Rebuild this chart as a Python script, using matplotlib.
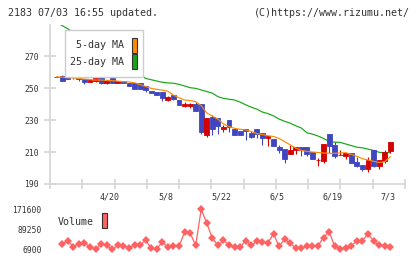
import matplotlib
matplotlib.use("Agg")
import matplotlib.pyplot as plt
from matplotlib.patches import Rectangle
import matplotlib.transforms as mtransforms
import numpy as np

# ---- data ----
opens = [257.0, 257.5, 257.5, 262.7, 259.4, 255.4, 254.0, 254.4, 257.5, 252.9,
         256.0, 252.9, 254.6, 252.9, 252.9, 252.9, 251.5, 248.3, 247.7, 247.5,
         242.3, 245.4, 242.5, 239.0, 239.0, 240.0, 240.0, 220.6, 231.9, 231.25,
         224.2, 230.0, 224.4, 223.1, 224.4, 221.9, 224.4, 221.9, 218.75, 218.1,
         213.1, 211.9, 208.75, 211.25, 213.1, 213.1, 210.0, 205.0, 204.4, 221.25,
         214.4, 208.1, 207.5, 209.4, 203.75, 201.9, 199.4, 211.25, 201.25, 204.4,
         210.6]
highs = [257.0, 258.0, 261.0, 264.8, 259.4, 255.8, 255.0, 256.7, 257.5, 255.0,
         256.0, 254.6, 254.6, 252.9, 252.9, 252.9, 251.5, 248.3, 247.7, 247.5,
         245.0, 245.8, 242.5, 241.3, 240.4, 241.3, 240.0, 231.25, 233.1, 231.25,
         226.9, 230.0, 224.4, 223.1, 224.4, 223.1, 224.4, 221.9, 220.0, 218.1,
         214.4, 211.9, 214.4, 213.1, 213.1, 213.1, 210.0, 206.25, 215.0, 221.25,
         216.25, 211.25, 209.4, 209.4, 206.9, 201.9, 206.9, 211.25, 205.0, 211.25,
         216.25]
lows = [257.0, 254.6, 255.8, 255.8, 254.6, 252.3, 254.0, 253.8, 252.3, 252.3,
        253.3, 252.9, 252.9, 251.2, 249.6, 249.6, 247.7, 247.1, 245.8, 242.1,
        242.1, 242.5, 239.6, 238.1, 237.5, 235.8, 221.0, 219.6, 220.6, 221.25,
        222.7, 222.7, 220.6, 220.6, 217.5, 218.75, 218.75, 214.4, 213.75, 213.75,
        209.6, 203.1, 208.75, 208.75, 207.5, 207.5, 205.6, 201.25, 203.4, 209.4,
        206.25, 208.1, 205.6, 203.1, 200.6, 198.1, 197.5, 200.6, 199.4, 203.1,
        209.2]
closes = [257.0, 254.6, 255.8, 257.9, 255.8, 254.0, 255.0, 256.3, 252.9, 254.6,
          253.3, 254.6, 252.9, 251.2, 249.6, 249.6, 249.0, 247.1, 245.8, 244.0,
          244.2, 242.9, 239.6, 240.0, 240.0, 235.8, 222.7, 231.25, 224.4, 226.25,
          225.6, 225.8, 220.6, 220.6, 223.1, 219.4, 221.25, 218.75, 220.0, 213.75,
          211.25, 205.6, 211.25, 213.1, 211.25, 208.75, 205.6, 205.0, 215.0, 213.75,
          207.5, 208.1, 209.4, 203.1, 201.25, 199.4, 205.0, 201.25, 205.0, 210.0,
          216.25]
up_flags = [1, 0, 0, 0, 0, 0, 1, 1, 0, 1,
            0, 1, 0, 0, 0, 0, 0, 0, 0, 0,
            1, 0, 0, 1, 1, 0, 0, 1, 0, 0,
            1, 0, 0, 0, 0, 0, 0, 0, 1, 0,
            0, 0, 1, 1, 0, 0, 0, 1, 1, 0,
            0, 1, 1, 0, 0, 0, 1, 0, 1, 1,
            1]
ma5 = [257.0, 256.8, 256.5, 256.3, 256.0, 255.6, 255.3, 255.0, 255.0, 254.8,
       254.6, 254.3, 254.0, 253.8, 253.3, 252.1, 251.0, 249.8, 249.2, 248.7,
       248.0, 245.6, 243.9, 242.5, 242.2, 241.5, 239.0, 234.4, 232.5, 230.5,
       227.5, 225.9, 224.8, 224.2, 223.8, 222.8, 221.5, 220.9, 220.2, 219.7,
       218.5, 216.5, 214.5, 212.5, 211.0, 210.4, 210.0, 209.7, 209.4, 209.2,
       209.2, 209.4, 209.6, 208.5, 207.3, 205.8, 205.0, 204.2, 203.4, 204.0,
       207.0]
ma25 = [291.0, 289.0, 287.0, 284.8, 282.6, 280.4, 278.2, 276.0, 273.8, 271.6,
        269.4, 267.2, 265.0, 262.8, 260.6, 258.3, 256.0, 255.2, 254.4, 253.6,
        253.2, 253.0, 252.3, 251.3, 250.2, 249.8, 248.8, 247.8, 246.8, 244.6,
        243.5, 243.0, 242.5, 241.2, 239.5, 238.0, 236.8, 235.0, 234.0, 232.6,
        230.6, 229.2, 228.0, 226.4, 225.0, 222.0, 221.2, 220.0, 218.5, 216.6,
        216.2, 216.0, 215.0, 214.0, 213.0, 212.6, 211.8, 211.0, 209.8, 209.6,
        209.6]
volumes = [28900, 41200, 17900, 28900, 34350, 15100, 6900, 28900, 23400, 6900,
           23400, 20600, 12400, 24700, 24700, 44000, 11000, 9600, 35700, 16500,
           19300, 19300, 76900, 74200, 23400, 171600, 114000, 52200, 23400, 44000,
           23400, 17900, 16500, 42600, 23400, 39800, 35700, 34300, 70000, 19300,
           49400, 33000, 11000, 11000, 19300, 19300, 22000, 55000, 79600, 19300,
           9600, 11000, 20600, 42600, 42600, 70000, 41200, 23400, 19300, 15100]
price_ticks = [190, 210, 230, 250, 270]
vol_ticks = [6900, 89250, 171600]
date_labels = ["4/20", "5/8", "5/22", "6/5", "6/19", "7/3"]
date_idx = [10, 20, 30, 40, 50, 60]
title_left = "2183 07/03 16:55 updated."
title_right = "(C)https://www.rizumu.net/"

# ---- style ----
BLUE = "#4046c0"
RED = "#d40000"
ORANGE = "#ff8a00"
GREEN = "#14a814"
VOLC = "#ff6262"
AXC = "#d6d6d6"
TXT = "#333333"
MONO = "DejaVu Sans Mono"

W, H = 420, 259
fig = plt.figure(figsize=(W / 100, H / 100), dpi=100)
fig.patch.set_facecolor("white")

def fx(px):
    return px / W

def fy(py):
    return 1 - py / H

# main axes: x 50..405, y 25..184 px
ax = fig.add_axes([fx(50), fy(184), fx(355), 159 / H])
n = len(opens)
idx = np.arange(n)
xmin, xmax = -1.2, 62.65
ax.set_xlim(xmin, xmax)
ax.set_ylim(190, 289.4)

# candles
for i in idx:
    col = RED if up_flags[i] else BLUE
    ax.vlines(i, lows[i], highs[i], color=col, linewidth=0.8, zorder=3)
    lo = min(opens[i], closes[i])
    hgt = abs(closes[i] - opens[i])
    ax.bar(i, hgt, bottom=lo, width=0.88, color=col, edgecolor=col,
           linewidth=0.6, zorder=4)

ax.plot(idx, ma5, color=ORANGE, linewidth=0.85, zorder=5)
ax.plot(idx, ma25, color=GREEN, linewidth=0.85, zorder=2)

for s in ["top", "right"]:
    ax.spines[s].set_visible(False)
for s in ["left", "bottom"]:
    ax.spines[s].set_color(AXC)
    ax.spines[s].set_linewidth(1.2)

ax.set_yticks(price_ticks)
ax.set_yticklabels([str(t) for t in price_ticks], fontfamily=MONO,
                   fontsize=5.8, color=TXT)
ax.tick_params(axis="y", direction="inout", length=8, width=1.2, color=AXC,
               pad=4)
ax.set_xticks(np.linspace(xmin, xmax, 12))
ax.set_xticklabels([])
ax.tick_params(axis="x", direction="inout", length=7, width=1.2, color=AXC)

trans = mtransforms.blended_transform_factory(ax.transData, ax.transAxes)
for lab, di in zip(date_labels, date_idx):
    ax.text(di - 0.4, -13.5 / 159, lab, transform=trans, ha="center",
            va="center", fontfamily=MONO, fontsize=6, color=TXT)

# legend box
def axf_x(px):
    return (px - 50) / 355

def axf_y(py):
    return 1 - (py - 25) / 159

ax.add_patch(Rectangle((axf_x(65), axf_y(77)), 78 / 355, 47 / 159,
                       transform=ax.transAxes, facecolor="white",
                       edgecolor="#cccccc", linewidth=1, zorder=10))
ax.text(axf_x(124), axf_y(45), "5-day MA", transform=ax.transAxes,
        ha="right", va="center", fontfamily=MONO, fontsize=7.2, color=TXT,
        zorder=11)
ax.text(axf_x(124), axf_y(62), "25-day MA", transform=ax.transAxes,
        ha="right", va="center", fontfamily=MONO, fontsize=7.2, color=TXT,
        zorder=11)
ax.add_patch(Rectangle((axf_x(131.5), axf_y(53)), 5.5 / 355, 15.5 / 159,
                       transform=ax.transAxes, facecolor=ORANGE,
                       edgecolor="#333333", linewidth=0.8, zorder=11))
ax.add_patch(Rectangle((axf_x(131.5), axf_y(69)), 5.5 / 355, 15 / 159,
                       transform=ax.transAxes, facecolor=GREEN,
                       edgecolor="#333333", linewidth=0.8, zorder=11))

# volume axes: 6900 at y 249.3, 171600 at y 209.3
vax = fig.add_axes([fx(50), fy(249.3), fx(355), 40 / H])
vax.set_xlim(xmin, xmax)
vax.set_ylim(vol_ticks[0], vol_ticks[-1])
vax.plot(idx[1:], volumes, color=VOLC, linewidth=0.9, marker="D",
         markersize=4.4, markeredgewidth=0, clip_on=False)
for s in vax.spines.values():
    s.set_visible(False)
vax.set_xticks([])
vax.set_yticks(vol_ticks)
vax.set_yticklabels([str(t) for t in vol_ticks], fontfamily=MONO,
                    fontsize=5.8, color=TXT)
vax.tick_params(axis="y", length=0, pad=6)
vax.patch.set_alpha(0)

fig.text(fx(58), fy(222.3), "Volume", ha="left", va="center",
         fontfamily=MONO, fontsize=7.2, color=TXT)
fig.patches.append(Rectangle((fx(102), fy(228)), fx(5.5), 15 / H,
                             transform=fig.transFigure, facecolor=VOLC,
                             edgecolor="#333333", linewidth=0.8))

fig.text(fx(8), fy(12.5), title_left, ha="left", va="center",
         fontfamily=MONO, fontsize=7.2, color=TXT)
fig.text(fx(410), fy(12.5), title_right, ha="right", va="center",
         fontfamily=MONO, fontsize=7.2, color=TXT)

fig.savefig("out.png", dpi=100, facecolor="white")
